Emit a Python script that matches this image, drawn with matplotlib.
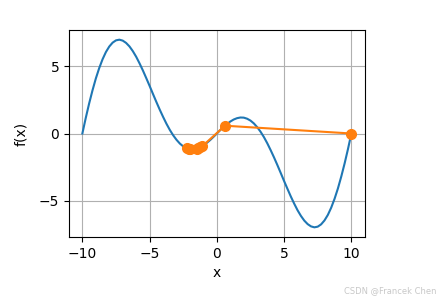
import matplotlib
matplotlib.use("Agg")
import matplotlib.pyplot as plt

# f(x) values, positive half (x = 0 .. 10, step 0.25)
x_pos = [i * 0.25 for i in range(41)]
f_pos = [0.00, 0.25, 0.49, 0.70, 0.89, 1.04, 1.14, 1.19, 1.18, 1.10,
         0.96, 0.75, 0.47, 0.13, -0.27, -0.73, -1.24, -1.78, -2.35, -2.94,
         -3.54, -4.12, -4.69, -5.22, -5.71, -6.13, -6.48, -6.74, -6.91, -6.98,
         -6.93, -6.76, -6.47, -6.06, -5.52, -4.86, -4.09, -3.20, -2.22, -1.15,
         0.00]
# the curve is odd-symmetric, so the negative half mirrors the positive one
curve_x = [-v for v in x_pos[:0:-1]] + x_pos
curve_y = [-v for v in f_pos[:0:-1]] + f_pos

# gradient descent trace (orange)
trace_x = [10.0, 0.6, -1.1, -2.25, -1.25, -2.1, -1.4, -2.0, -1.5]
trace_y = [0.0, 0.58, -0.96, -1.10, -1.04, -1.15, -1.11, -1.18, -1.14]

fig = plt.figure(figsize=(4.39, 2.97), dpi=100)
ax = fig.add_axes([0.157, 0.202, 0.674, 0.697])

ax.plot(curve_x, curve_y, color="#1f77b4", linewidth=1.5)
ax.plot(trace_x, trace_y, color="#ff7f0e", marker="o", markersize=7, linewidth=1.5)

ax.set_xlim(-11, 11)
ax.set_ylim(-7.7, 7.7)
ax.set_xticks([-10, -5, 0, 5, 10])
ax.set_yticks([-5, 0, 5])
ax.set_xlabel("x")
ax.set_ylabel("f(x)", labelpad=8)
ax.grid(True)

fig.text(0.995, 0.005, "CSDN @Francek Chen", ha="right", va="bottom",
         fontsize=6, color="#c8c8c8")

fig.savefig("out.png", dpi=100)
